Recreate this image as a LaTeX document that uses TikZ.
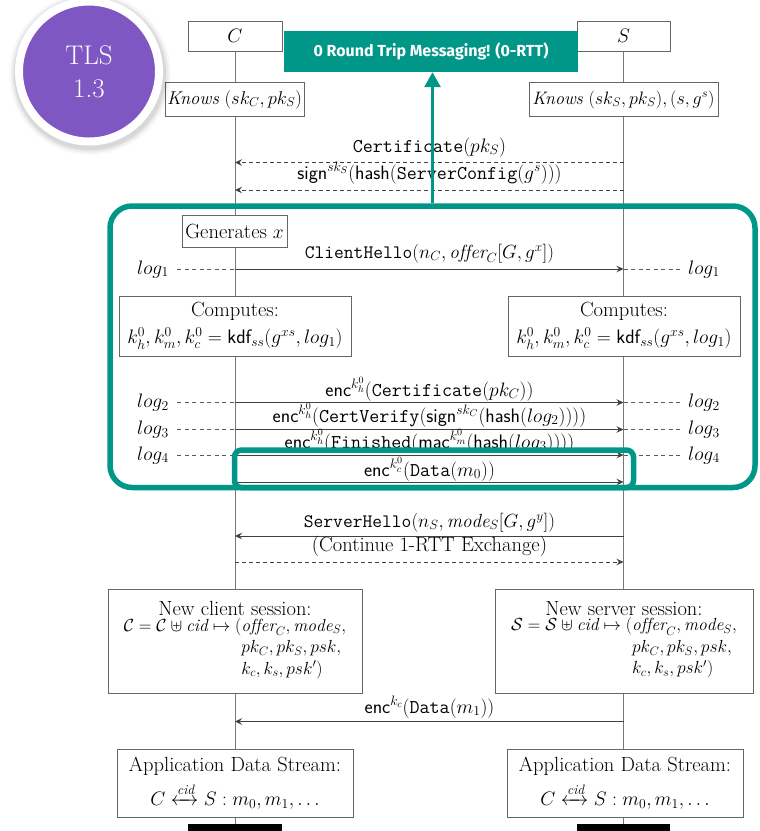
\documentclass[tikz,border=0pt]{standalone}
\usepackage{fix-cm}
\usepackage{amsmath,amssymb,mathtools}
\usepackage{fontspec}
\newfontfamily\bannerfont{Fira Sans}
\usetikzlibrary{arrows.meta}
\definecolor{tealmark}{RGB}{0,150,136}
\definecolor{tlspurple}{RGB}{126,87,194}
\definecolor{lifegray}{RGB}{120,120,120}
\newcommand{\tm}[1]{\texttt{#1}}
\newcommand{\rmtxt}[1]{{\fontsize{20.5}{24}\selectfont #1}}
\begin{document}
\begin{tikzpicture}[x=1pt,y=-1pt,
  every node/.style={font=\fontsize{19.5}{24}\selectfont},
  life/.style={draw=lifegray, line width=0.9pt},
  box/.style={draw=black!60, fill=white, line width=0.9pt, inner sep=1pt, align=center},
  msg/.style={draw=black!75, line width=0.8pt, -{Stealth[length=7pt,width=6.5pt,inset=2.5pt]}},
  dmsg/.style={msg, dash pattern=on 4pt off 3pt},
  logline/.style={draw=black!65, line width=0.7pt, dash pattern=on 4pt off 3.5pt},
  lbl/.style={anchor=base, inner sep=0pt},
  loglbl/.style={inner sep=0pt},
  zone/.style={draw=tealmark, line width=5.5pt, inner sep=0pt},
]
\useasboundingbox (0,0) rectangle (760,831);

% ---------- participants and lifelines ----------
\node[box, minimum width=94pt, minimum height=30pt] (C) at (235,36) {$C$};
\node[box, minimum width=93pt, minimum height=30pt] (S) at (623.5,36) {$S$};
\node[fill=black, minimum width=94pt, minimum height=10pt, inner sep=0pt] (Cend) at (235,829) {};
\node[fill=black, minimum width=93pt, minimum height=10pt, inner sep=0pt] (Send) at (623.5,829) {};
\draw[life] (C.south) -- (Cend.north);
\draw[life] (S.south) -- (Send.north);

% ---------- initial knowledge ----------
\node[box, minimum width=139pt, minimum height=34pt, font=\fontsize{18.5}{22}\selectfont] (Cknows) at (234.5,99.5) {\textit{Knows} $(sk_C, pk_S)$};
\node[box, minimum width=189pt, minimum height=34pt, font=\fontsize{18}{22}\selectfont] (Sknows) at (623.5,99.5) {\textit{Knows} $(sk_S, pk_S), (s, g^s)$};

% ---------- server configuration ----------
\coordinate (s1) at (623.5,162.5); \coordinate (c1) at (235,162.5);
\coordinate (s2) at (623.5,190);   \coordinate (c2) at (235,190);
\draw[dmsg] (s1) -- (c1);
\draw[dmsg] (s2) -- (c2);
\node[lbl] (l1) at (429.5,152) {\tm{Certificate}$(pk_S)$};
\node[lbl] (l2) at (429.5,179) {$\mathsf{sign}^{sk_S}(\mathsf{hash}(\text{\tm{ServerConfig}}(g^s)))$};

% ---------- client hello ----------
\node[box, minimum width=105pt, minimum height=32pt] (gen) at (234.5,231.5) {\rmtxt{Generates} $x$};
\coordinate (c3) at (235,269); \coordinate (s3) at (623.5,269);
\draw[msg] (c3) -- (s3);
\node[lbl, font=\fontsize{19}{24}\selectfont] (l3) at (429.5,258) {\tm{ClientHello}$(n_C, \mathit{offer}_C[G, g^x])$};

% ---------- early keys ----------
\node[box, minimum width=232pt, minimum height=60pt, font=\fontsize{19.5}{27}\selectfont] (Ccomp) at (235,326)
  {\rmtxt{Computes:}\\ $k_h^0, k_m^0, k_c^0 = \mathsf{kdf}_{ss}(g^{xs}, log_1)$};
\node[box, minimum width=232pt, minimum height=60pt, font=\fontsize{19.5}{27}\selectfont] (Scomp) at (624,326)
  {\rmtxt{Computes:}\\ $k_h^0, k_m^0, k_c^0 = \mathsf{kdf}_{ss}(g^{xs}, log_1)$};

% ---------- early flight ----------
\coordinate (c4) at (235,402.5); \coordinate (s4) at (623.5,402.5);
\coordinate (c5) at (235,429.5); \coordinate (s5) at (623.5,429.5);
\coordinate (c6) at (235,455);   \coordinate (s6) at (623.5,455);
\coordinate (c7) at (235,482);   \coordinate (s7) at (623.5,482);
\draw[msg] (c4) -- (s4);
\draw[msg] (c5) -- (s5);
\draw[msg] (c6) -- (s6);
\draw[msg] (c7) -- (s7);
\node[lbl] (l4) at (429.5,396) {$\mathsf{enc}^{k_h^0}(\text{\tm{Certificate}}(pk_C))$};
\node[lbl] (l5) at (429.5,422) {$\mathsf{enc}^{k_h^0}(\text{\tm{CertVerify}}(\mathsf{sign}^{sk_C}(\mathsf{hash}(log_2))))$};
\node[lbl] (l6) at (429.5,448) {$\mathsf{enc}^{k_h^0}(\text{\tm{Finished}}(\mathsf{mac}^{k_m^0}(\mathsf{hash}(log_3))))$};
\node[lbl] (l7) at (429.5,476) {$\mathsf{enc}^{k_c^0}(\text{\tm{Data}}(m_0))$};

% ---------- transcript markers ----------
\foreach \i/\y in {1/269, 2/402.5, 3/429.5, 4/455} {
  \coordinate (ll\i) at (177,\y);
  \coordinate (lc\i) at (235,\y);
  \coordinate (rs\i) at (623.5,\y);
  \coordinate (rr\i) at (683,\y);
  \draw[logline] (ll\i) -- (lc\i);
  \draw[logline] (rs\i) -- (rr\i);
  \node[loglbl, anchor=base east] (logL\i) at (169,\y+5) {$log_{\i}$};
  \node[loglbl, anchor=base west] (logR\i) at (688,\y+5) {$log_{\i}$};
}

% ---------- server hello ----------
\coordinate (s8) at (623.5,536); \coordinate (c8) at (235,536);
\coordinate (c9) at (235,562);   \coordinate (s9) at (623.5,562);
\draw[msg] (s8) -- (c8);
\draw[dmsg] (c9) -- (s9);
\node[lbl, font=\fontsize{19}{24}\selectfont] (l8) at (429.5,527) {\tm{ServerHello}$(n_S, \mathit{mode}_S[G, g^y])$};
\node[lbl] (l9) at (429.5,551) {\rmtxt{(Continue 1-RTT Exchange)}};

% ---------- sessions ----------
\node[box, minimum width=254pt, minimum height=104pt, font=\fontsize{17.5}{21.5}\selectfont] (Csess) at (235,641)
  {\rmtxt{New client session:}\\[-1pt]
   $\begin{array}{@{}r@{}l@{}}
     \mathcal{C} = \mathcal{C} \uplus \mathit{cid} \mapsto (& \mathit{offer}_C, \mathit{mode}_S,\\
     & pk_C, pk_S, psk,\\
     & k_c, k_s, psk')
   \end{array}$};
\node[box, minimum width=258pt, minimum height=104pt, font=\fontsize{17.5}{21.5}\selectfont] (Ssess) at (624,641)
  {\rmtxt{New server session:}\\[-1pt]
   $\begin{array}{@{}r@{}l@{}}
     \mathcal{S} = \mathcal{S} \uplus \mathit{cid} \mapsto (& \mathit{offer}_C, \mathit{mode}_S,\\
     & pk_C, pk_S, psk,\\
     & k_c, k_s, psk')
   \end{array}$};

% ---------- application data ----------
\coordinate (s10) at (623.5,721.5); \coordinate (c10) at (235,721.5);
\draw[msg] (s10) -- (c10);
\node[lbl] (l10) at (429.5,713) {$\mathsf{enc}^{k_c}(\text{\tm{Data}}(m_1))$};

\node[box, minimum width=236pt, minimum height=68pt] (Capp) at (235,783)
  {\rmtxt{Application Data Stream:}\\[6pt] $C \xleftrightarrow{\mathit{cid}} S : m_0, m_1, \ldots$};
\node[box, minimum width=236pt, minimum height=68pt] (Sapp) at (625,783)
  {\rmtxt{Application Data Stream:}\\[6pt] $C \xleftrightarrow{\mathit{cid}} S : m_0, m_1, \ldots$};

% ---------- 0-RTT highlight ----------
\node[zone, rounded corners=22pt, minimum width=645pt, minimum height=281.5pt] (zone) at (432.5,346.75) {};
\node[zone, rounded corners=7pt, minimum width=399pt, minimum height=37.5pt] (zoneD) at (434,468.75) {};
\node[fill=tealmark, minimum width=294pt, minimum height=41pt, inner sep=0pt, text=white,
      font=\bannerfont\bfseries\fontsize{16}{19}\selectfont] (banner) at (431,51.5) {0 Round Trip Messaging! (0-RTT)};
\draw[tealmark, line width=2.8pt, -{Triangle[length=15pt,width=16pt]}] (zone.north) -- (zone.north |- banner.south);

% ---------- version badge ----------
\foreach \r/\o in {81/0.025, 79/0.035, 77.5/0.045, 76/0.06} {
  \fill[black, opacity=\o] (90,74) circle (\r pt);
}
\node[circle, fill=tlspurple, draw=white, line width=8pt, minimum size=140pt, inner sep=0pt,
      text=white, align=center, font=\fontsize{27}{33}\selectfont] (tls) at (89,71.5) {TLS\\1.3};
\end{tikzpicture}
\end{document}
